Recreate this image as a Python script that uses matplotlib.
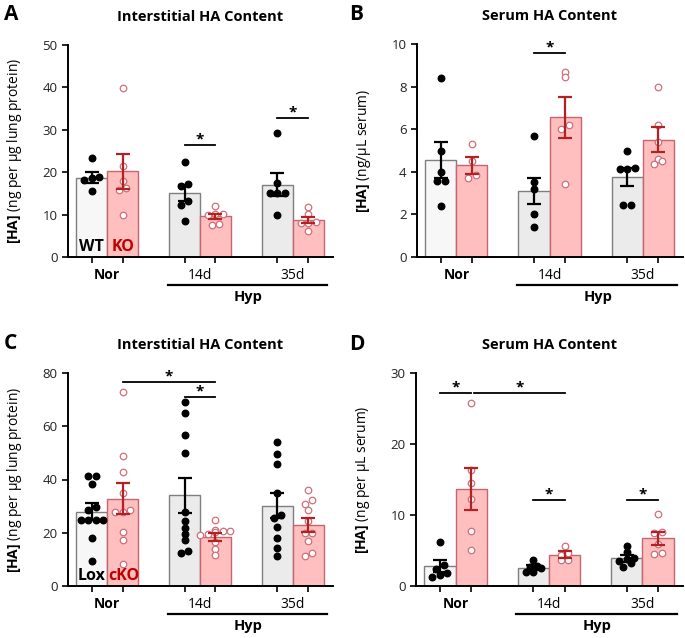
import numpy as np
import matplotlib.pyplot as plt
from matplotlib.transforms import blended_transform_factory

plt.rcParams['font.family'] = ['Open Sans', 'DejaVu Sans']
plt.rcParams['mathtext.fontset'] = 'custom'
plt.rcParams['mathtext.rm'] = 'Open Sans'
plt.rcParams['mathtext.bf'] = 'Open Sans:bold'

groups = ['Nor', '14d', '35d']

# panel A - interstitial HA, WT vs KO
a_ctrl = [[23.3, 18.2, 18.6, 18.8, 15.5],
          [22.3, 17.3, 16.8, 13.3, 12.3, 8.6],
          [29.2, 17.5, 15.1, 15.1, 15.1, 9.8]]
a_ko = [[39.9, 21.5, 18.0, 15.8, 16.2, 9.8],
        [12.0, 10.2, 10.1, 9.8, 7.6, 7.8],
        [11.8, 10.1, 8.0, 8.0, 8.2, 6.2]]
a_mean = [18.7, 15.1, 17.0]
a_sem = [1.3, 1.85, 2.7]
a_ko_mean = [20.2, 9.6, 8.8]
a_ko_sem = [4.2, 0.6, 0.75]

# panel B - serum HA, WT vs KO
b_ctrl = [[8.4, 5.0, 4.0, 3.55, 3.55, 2.4],
          [5.7, 3.5, 3.2, 2.0, 1.4],
          [5.0, 4.15, 4.15, 4.2, 2.45, 2.45]]
b_ko = [[5.3, 4.5, 3.7, 3.85],
        [8.7, 8.45, 6.2, 6.0, 3.45],
        [8.0, 6.2, 5.4, 4.6, 4.35, 4.5]]
b_mean = [4.55, 3.1, 3.75]
b_sem = [0.85, 0.62, 0.43]
b_ko_mean = [4.3, 6.55, 5.5]
b_ko_sem = [0.38, 0.95, 0.58]

# panel C - interstitial HA, Lox vs cKO
c_ctrl = [[41.3, 41.3, 38.3, 29.5, 28.5, 24.8, 24.8, 24.8, 24.8, 18.0, 9.5],
          [69.0, 64.9, 56.7, 49.8, 27.9, 24.4, 21.9, 19.4, 17.1, 13.1, 12.5],
          [54.0, 49.4, 45.9, 35.0, 26.8, 25.5, 22.2, 18.2, 14.2, 11.2]]
c_ko = [[73.0, 48.8, 43.0, 34.9, 28.5, 27.9, 27.9, 20.4, 17.3, 8.3],
        [24.8, 21.0, 20.5, 20.5, 20.2, 19.5, 19.2, 16.6, 13.9, 11.6],
        [36.2, 32.2, 30.7, 28.5, 24.5, 20.0, 20.0, 16.8, 12.4, 11.3]]
c_mean = [27.9, 34.0, 30.2]
c_sem = [3.1, 6.5, 4.8]
c_ko_mean = [32.8, 18.5, 22.8]
c_ko_sem = [5.8, 1.45, 2.7]

# panel D - serum HA, Lox vs cKO
d_ctrl = [[6.2, 3.0, 2.4, 1.8, 1.6, 1.3],
          [3.6, 2.8, 2.7, 2.6, 2.0, 2.0],
          [5.6, 4.8, 4.0, 3.8, 3.5, 3.2, 2.7]]
d_ko = [[25.8, 16.3, 14.5, 12.2, 7.7, 5.1],
        [5.7, 4.7, 4.4, 3.7, 3.6],
        [10.1, 7.6, 7.5, 5.9, 4.7, 4.5]]
d_mean = [2.8, 2.6, 3.9]
d_sem = [0.85, 0.35, 0.45]
d_ko_mean = [13.6, 4.4, 6.7]
d_ko_sem = [2.95, 0.5, 0.9]

# significance: (bar index 1, bar index 2, height), bars 0..5 = ctrl/ko per group
a_sig = [(2, 3, 26.5), (4, 5, 32.8)]
b_sig = [(2, 3, 9.56)]
c_sig = [(1, 3, 76.6), (2, 3, 71.0)]
d_sig = [(0, 1, 27.2), (1, 3, 27.2), (2, 3, 12.1), (4, 5, 12.1)]

FIG_W, FIG_H = 6.85, 6.38
fig = plt.figure(figsize=(FIG_W, FIG_H), dpi=100)

ctrl_x = np.array([0, 3, 6])
ko_x = ctrl_x + 1
bar_x = [0, 1, 3, 4, 6, 7]
ko_red = '#b22222'
ko_edge = '#cf6f7a'


def swarm(vals, ppu_y, ppu_x, diam=4.5, step=7.5):
    # graphpad-ish scatter: rows of near-equal values spread symmetrically
    vals = np.asarray(vals)
    order = np.argsort(vals)
    offs = np.zeros(len(vals))
    rows, cur = [], [order[0]]
    for i in order[1:]:
        if (vals[i] - vals[cur[0]]) * ppu_y < diam:
            cur.append(i)
        else:
            rows.append(cur)
            cur = [i]
    rows.append(cur)
    for r in rows:
        n = len(r)
        for j, i in enumerate(r):
            offs[i] = (j - (n - 1) / 2) * step / ppu_x
    return offs


def panel(rect, ctrl, ko, mean, sem, ko_mean, ko_sem, sig, ymax, ystep,
          title, ylab, letter, letter_xy, tags=None):
    ax = fig.add_axes(rect)
    ax.set_xlim(-0.77, 7.8)
    ax.set_ylim(0, ymax)
    ppu_y = rect[3] * FIG_H * 100 / ymax
    ppu_x = rect[2] * FIG_W * 100 / 8.57

    fills = ['#f7f7f7', '#ebebeb', '#ebebeb']
    ax.bar(ctrl_x, mean, width=1.0, color=fills, edgecolor='#7f7f7f', linewidth=1.0, zorder=1)
    ax.bar(ko_x, ko_mean, width=1.0, color='#ffbfbf', edgecolor='#c8646e', linewidth=1.0, zorder=1)

    for k in range(3):
        ox = swarm(ctrl[k], ppu_y, ppu_x)
        ax.scatter(ctrl_x[k] + ox, ctrl[k], s=22, color='black', zorder=3, clip_on=False)
        ox = swarm(ko[k], ppu_y, ppu_x)
        ax.scatter(ko_x[k] + ox, ko[k], s=22, facecolor='white', edgecolor=ko_edge,
                   linewidth=0.9, zorder=3, clip_on=False)

    ax.errorbar(ctrl_x, mean, yerr=sem, fmt='none', ecolor='black', elinewidth=1.6,
                capsize=5, capthick=1.6, zorder=4)
    ax.errorbar(ko_x, ko_mean, yerr=ko_sem, fmt='none', ecolor=ko_red, elinewidth=1.6,
                capsize=5, capthick=1.6, zorder=4)

    for i1, i2, h in sig:
        x1, x2 = bar_x[i1], bar_x[i2]
        if i1 == 1 and i2 == 3 and letter == 'D':
            x1 += 0.1
        ax.plot([x1, x2], [h, h], color='black', lw=1.3, clip_on=False)
        ax.annotate('*', ((x1 + x2) / 2, h), xytext=(0, -1), textcoords='offset points',
                    ha='center', va='bottom', fontsize=11, fontweight='bold')

    for s in ['top', 'right']:
        ax.spines[s].set_visible(False)
    for s in ['left', 'bottom']:
        ax.spines[s].set_linewidth(1.4)
    ax.set_yticks(np.arange(0, ymax + 0.01, ystep))
    ax.set_xticks(bar_x)
    ax.set_xticklabels([])
    ax.tick_params(axis='both', width=1.2, length=4, labelsize=9.5, colors='black')
    ax.tick_params(axis='y', labelcolor='#222222')

    tr = blended_transform_factory(ax.transData, ax.transAxes)
    ax.text(0.5, -0.085, groups[0], transform=tr, ha='center', va='center',
            fontsize=10, fontweight='bold')
    ax.text(3.5, -0.085, groups[1], transform=tr, ha='center', va='center', fontsize=10)
    ax.text(6.5, -0.085, groups[2], transform=tr, ha='center', va='center', fontsize=10)
    ax.plot([2.45, 7.6], [-0.132, -0.132], transform=tr, color='black', lw=1.6, clip_on=False)
    ax.text(5.05, -0.19, 'Hyp', transform=tr, ha='center', va='center',
            fontsize=10.5, fontweight='bold')

    if tags:
        ax.text(0, ymax * 0.008, tags[0], ha='center', va='bottom', fontsize=11.5,
                fontweight='bold', color='black', zorder=5)
        ax.text(1.02, ymax * 0.008, tags[1], ha='center', va='bottom', fontsize=11.5,
                fontweight='bold', color='#c00000', zorder=5)

    ax.text(0.5, 1.13, title, transform=ax.transAxes, ha='center', va='center',
            fontsize=10.5, fontweight='bold')
    ax.set_ylabel(ylab, fontsize=10)
    ax.yaxis.set_label_coords(-0.165, 0.5)
    fig.text(letter_xy[0], letter_xy[1], letter, fontsize=15, fontweight='bold',
             ha='left', va='center')
    return ax


lab_lung = r'$\mathbf{[HA]}$ (ng per µg lung protein)'
panel([68 / 685, 381 / 638, 265 / 685, 212 / 638], a_ctrl, a_ko, a_mean, a_sem,
      a_ko_mean, a_ko_sem, a_sig, 50, 10, 'Interstitial HA Content', lab_lung,
      'A', (0.006, 0.978), tags=('WT', 'KO'))
panel([417 / 685, 381 / 638, 266 / 685, 213 / 638], b_ctrl, b_ko, b_mean, b_sem,
      b_ko_mean, b_ko_sem, b_sig, 10, 2, 'Serum HA Content',
      r'$\mathbf{[HA]}$ (ng/µL serum)', 'B', (0.51, 0.978))
panel([68 / 685, 52 / 638, 265 / 685, 213 / 638], c_ctrl, c_ko, c_mean, c_sem,
      c_ko_mean, c_ko_sem, c_sig, 80, 20, 'Interstitial HA Content', lab_lung,
      'C', (0.006, 0.462), tags=('Lox', 'cKO'))
panel([416 / 685, 52 / 638, 267 / 685, 213 / 638], d_ctrl, d_ko, d_mean, d_sem,
      d_ko_mean, d_ko_sem, d_sig, 30, 10, 'Serum HA Content',
      r'$\mathbf{[HA]}$ (ng per µL serum)', 'D', (0.51, 0.46))

fig.savefig('out.png', dpi=100)
